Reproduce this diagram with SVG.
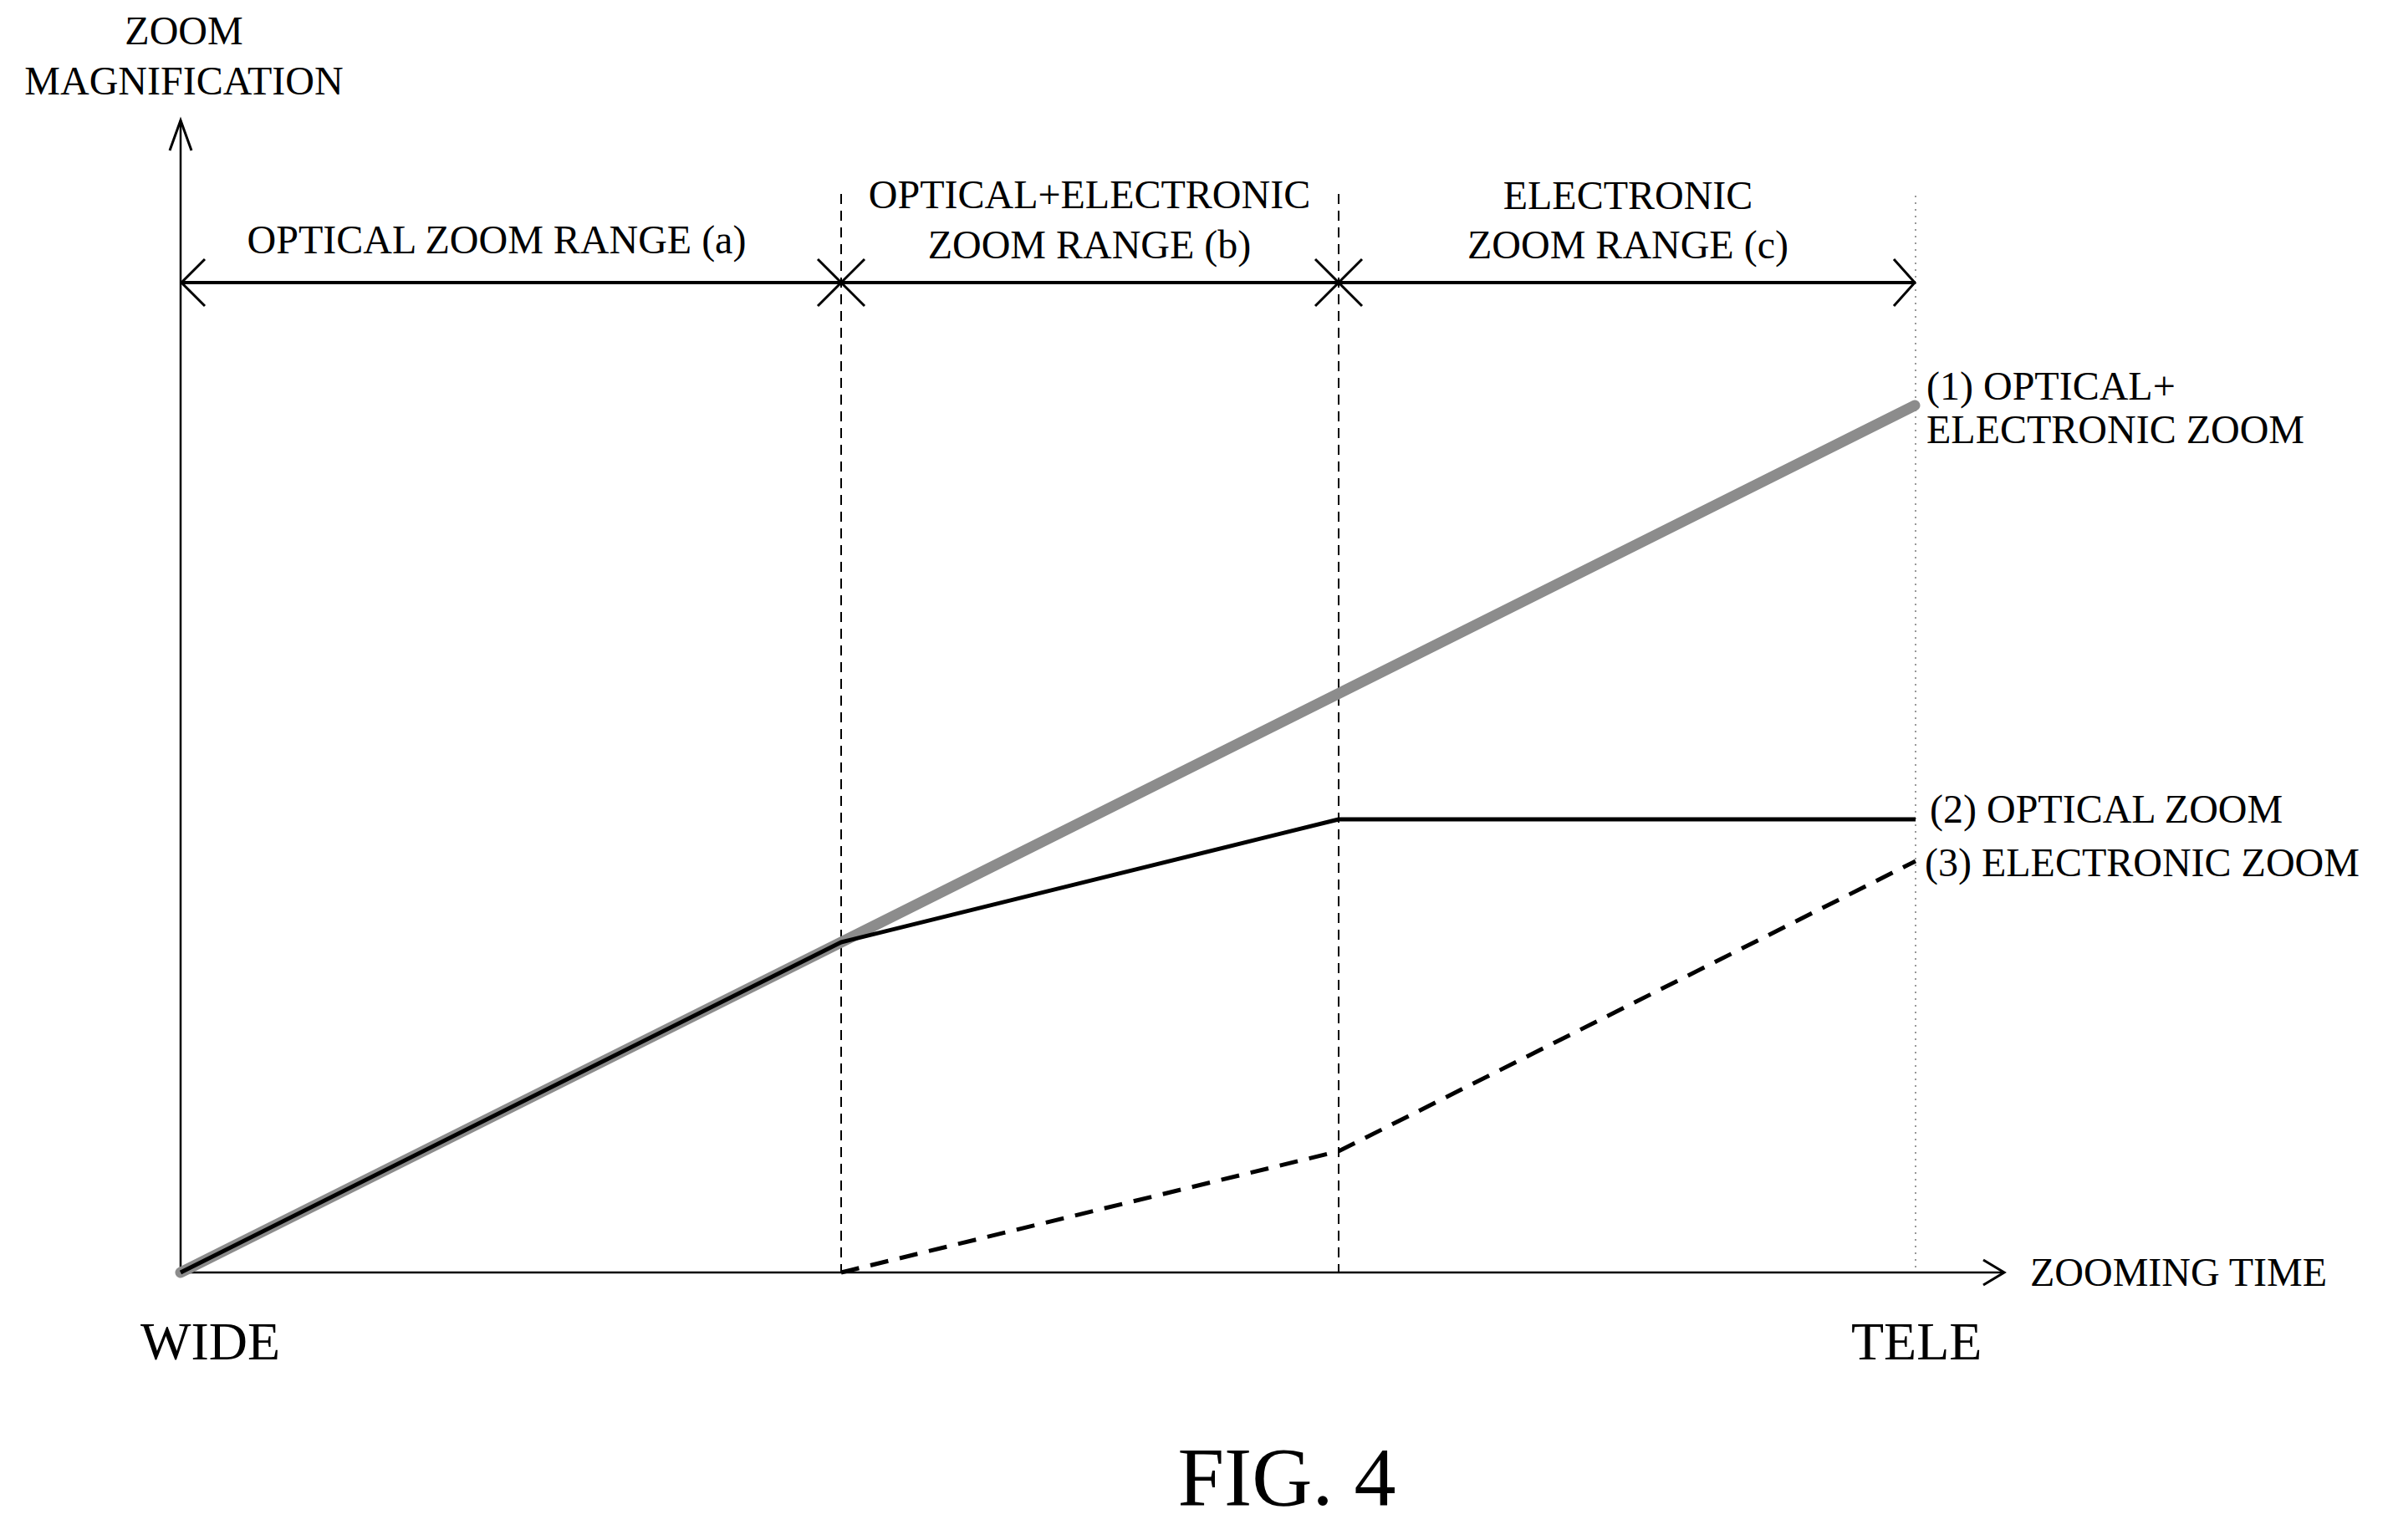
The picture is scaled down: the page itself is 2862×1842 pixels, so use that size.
<svg xmlns="http://www.w3.org/2000/svg" width="2862" height="1842" viewBox="0 0 2862 1842">
<style>
text{font-family:"Liberation Serif","Times New Roman",serif;fill:#000}
.t{font-size:48px}
.b{font-size:64px}
.ax{stroke:#000;stroke-width:2.5;fill:none}
.ah{stroke:#000;stroke-width:3;fill:none}
.rg{stroke:#000;stroke-width:4;fill:none}
.vd{stroke:#000;stroke-width:2;stroke-dasharray:12 8;fill:none}
.vo{stroke:#999;stroke-width:2;stroke-dasharray:2 6;fill:none}
</style>
<rect width="2862" height="1842" fill="#fff"/>
<g id="axes">
<line class="ax" x1="216" y1="1522" x2="216" y2="144"/>
<polyline class="ah" points="203,180 216,144 229,180"/>
<line class="ax" x1="216" y1="1522" x2="2397" y2="1522"/>
<polyline class="ah" points="2372,1507 2397,1522 2372,1537"/>
</g>
<g id="guides">
<line class="vd" x1="1006" y1="232" x2="1006" y2="1522"/>
<line class="vd" x1="1601" y1="232" x2="1601" y2="1522"/>
<line class="vo" x1="2291" y1="234" x2="2291" y2="1522"/>
</g>
<g id="ranges">
<line class="rg" x1="216" y1="338" x2="2291" y2="338"/>
<polyline class="ah" points="245,310 217,338 245,366"/>
<polyline class="ah" points="978,310 1006,338 978,366"/>
<polyline class="ah" points="1034,310 1006,338 1034,366"/>
<polyline class="ah" points="1573,310 1601,338 1573,366"/>
<polyline class="ah" points="1629,310 1601,338 1629,366"/>
<polyline class="ah" points="2265,310 2290,338 2265,366"/>
</g>
<g id="curves">
<line x1="216" y1="1522" x2="2290" y2="485" stroke="#8c8c8c" stroke-width="13" stroke-linecap="round"/>
<polyline points="216,1522 1006,1127 1601,980 2291,980" stroke="#000" stroke-width="5" fill="none" stroke-linejoin="round"/>
<polyline points="1006,1522 1601,1377 2291,1030" stroke="#000" stroke-width="5" fill="none" stroke-dasharray="22 14"/>
</g>
<g id="labels">
<text class="t" x="220" y="53" text-anchor="middle">ZOOM</text>
<text class="t" x="220" y="113" text-anchor="middle">MAGNIFICATION</text>
<text class="t" x="594" y="303" text-anchor="middle">OPTICAL ZOOM RANGE (a)</text>
<text class="t" x="1303" y="249" text-anchor="middle">OPTICAL+ELECTRONIC</text>
<text class="t" x="1303" y="309" text-anchor="middle">ZOOM RANGE (b)</text>
<text class="t" x="1947" y="250" text-anchor="middle">ELECTRONIC</text>
<text class="t" x="1947" y="309" text-anchor="middle">ZOOM RANGE (c)</text>
<text class="t" x="2304" y="478">(1) OPTICAL+</text>
<text class="t" x="2304" y="530">ELECTRONIC ZOOM</text>
<text class="t" x="2308" y="984">(2) OPTICAL ZOOM</text>
<text class="t" x="2302" y="1048">(3) ELECTRONIC ZOOM</text>
<text class="t" x="2428" y="1538">ZOOMING TIME</text>
<text class="b" x="168" y="1626">WIDE</text>
<text class="b" x="2214" y="1626">TELE</text>
<text x="1539" y="1800" font-size="100" text-anchor="middle">FIG. 4</text>
</g>
</svg>
